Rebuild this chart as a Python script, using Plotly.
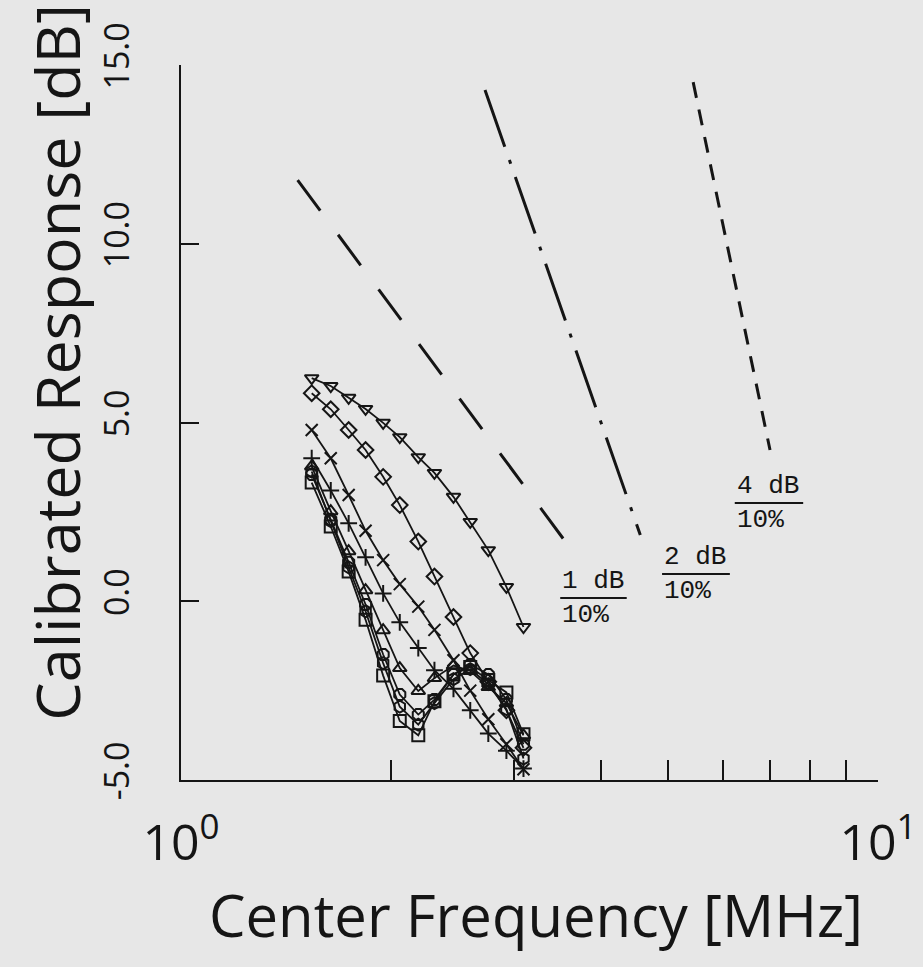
import numpy as np
import plotly.graph_objects as go

# ---------------- data ----------------
freq = [1.54, 1.64, 1.74, 1.84, 1.95, 2.06, 2.19, 2.31, 2.46, 2.60, 2.76, 2.93, 3.10]

resp_tri_down = [6.24, 6.02, 5.69, 5.38, 4.99, 4.59, 4.03, 3.59, 2.92, 2.22, 1.43, 0.40, -0.72]
resp_diamond = [5.82, 5.37, 4.79, 4.23, 3.48, 2.69, 1.67, 0.69, -0.44, -1.45, -2.25, -3.05, -4.10]
resp_x = [4.79, 4.00, 2.97, 1.97, 1.15, 0.48, -0.15, -0.80, -1.65, -2.50, -3.30, -4.00, -4.70]
resp_cross = [4.00, 3.10, 2.18, 1.23, 0.22, -0.59, -1.31, -1.93, -2.45, -3.05, -3.70, -4.18, -4.68]
resp_tri_up = [3.77, 2.52, 1.40, 0.31, -0.81, -1.87, -2.51, -2.15, -1.80, -1.95, -2.40, -2.85, -3.75]
resp_square = [3.32, 2.09, 0.83, -0.52, -2.08, -3.35, -3.75, -2.80, -2.05, -1.84, -2.20, -2.55, -3.72]
resp_octagon = [3.55, 2.29, 1.09, -0.09, -1.49, -2.61, -3.17, -2.75, -2.05, -1.77, -2.05, -2.75, -4.00]
resp_hexagon = [3.63, 2.24, 0.95, -0.28, -1.73, -2.95, -3.45, -2.85, -2.18, -1.90, -2.32, -3.02, -4.40]

# reference slopes (dB per 10 % frequency change)
ref1_x = [1.47, 3.68]
ref1_y = [11.78, 1.29]
ref2_x = [2.73, 4.56]
ref2_y = [14.30, 1.85]
ref4_x = [5.43, 7.00]
ref4_y = [14.52, 4.23]

# slope labels: numerator, denominator, fraction-bar extent, bar level
lab_num = ["1 dB", "2 dB", "4 dB"]
lab_den = ["10%", "10%", "10%"]
lab_x0 = [3.50, 4.90, 6.23]
lab_x1 = [4.36, 6.13, 7.81]
lab_y = [0.09, 0.76, 2.75]

x_tick_vals = [1, 2, 3, 4, 5, 6, 7, 8, 9, 10]
x_tick_text = ["10<sup>0</sup>", "", "", "", "", "", "", "", "", "10<sup>1</sup>"]
y_tick_vals = [-5, 0, 5, 10, 15]
y_tick_text = ["-5.0", "0.0", "5.0", "10.0", "15.0"]
x_title = "Center Frequency [MHz]"
y_title = "Calibrated Response [dB]"

# ---------------- figure ----------------
INK = "#151515"
BG = "#e7e7e7"
fig = go.Figure()

series = [
    (resp_tri_down, "triangle-down-open"),
    (resp_diamond, "diamond-open"),
    (resp_x, "x-thin-open"),
    (resp_cross, "cross-thin-open"),
    (resp_tri_up, "triangle-up-open"),
    (resp_square, "square-open"),
    (resp_octagon, "octagon-open"),
    (resp_hexagon, "hexagon-open"),
]
for vals, sym in series:
    fig.add_trace(go.Scatter(
        x=freq, y=vals, mode="lines+markers",
        line=dict(color=INK, width=1.8),
        marker=dict(symbol=sym, size=12, color=INK, line=dict(color=INK, width=2)),
        showlegend=False, hoverinfo="skip"))

for rx, ry, dash in [(ref1_x, ref1_y, "38px,30px"),
                     (ref2_x, ref2_y, "60px,14px,4px,14px"),
                     (ref4_x, ref4_y, "16px,12px")]:
    fig.add_trace(go.Scatter(x=rx, y=ry, mode="lines",
                             line=dict(color=INK, width=3, dash=dash),
                             showlegend=False, hoverinfo="skip"))

for num, den, x0, x1, y in zip(lab_num, lab_den, lab_x0, lab_x1, lab_y):
    fig.add_trace(go.Scatter(x=[x0, x1], y=[y, y], mode="lines",
                             line=dict(color=INK, width=2),
                             showlegend=False, hoverinfo="skip"))
    fig.add_annotation(x=np.log10(x0), y=y, xref="x", yref="y", text=num,
                       showarrow=False, xanchor="left", yanchor="bottom",
                       font=dict(family="Liberation Mono", size=26, color=INK))
    fig.add_annotation(x=np.log10(x0), y=y, xref="x", yref="y", text=den,
                       showarrow=False, xanchor="left", yanchor="top",
                       font=dict(family="Liberation Mono", size=26, color=INK))

FONT = "Open Sans"
# axis titles as free text so they sit where the original puts them
fig.add_annotation(x=-0.178, y=0.585, xref="paper", yref="paper", text=y_title,
                   textangle=-90, showarrow=False, xanchor="center", yanchor="middle",
                   font=dict(family=FONT, size=61, color=INK))
fig.add_annotation(x=0.51, y=-0.188, xref="paper", yref="paper", text=x_title,
                   showarrow=False, xanchor="center", yanchor="middle",
                   font=dict(family=FONT, size=58, color=INK))

fig.update_layout(
    width=923, height=967,
    margin=dict(l=181, r=45, t=65, b=187, autoexpand=False),
    paper_bgcolor=BG, plot_bgcolor=BG,
    font=dict(family=FONT, color=INK),
    xaxis=dict(type="log", range=[0, 1], showgrid=False, zeroline=False,
               automargin=False, ticklabeloverflow="allow",
               showline=True, linecolor=INK, linewidth=2,
               ticks="inside", ticklen=20, tickwidth=2, tickcolor=INK,
               tickvals=x_tick_vals, ticktext=x_tick_text,
               tickfont=dict(family=FONT, size=50, color=INK),
               ticklabelstandoff=18, ticklabelshift=0),
    yaxis=dict(range=[-5, 15], showgrid=False, zeroline=False,
               automargin=False, ticklabeloverflow="allow",
               showline=True, linecolor=INK, linewidth=2,
               ticks="inside", ticklen=18, tickwidth=2, tickcolor=INK,
               tickvals=y_tick_vals, ticktext=y_tick_text, tickangle=-90,
               tickfont=dict(family=FONT, size=34, color=INK),
               ticklabelstandoff=36, ticklabelshift=-4),
)

fig.write_html("out.html")
